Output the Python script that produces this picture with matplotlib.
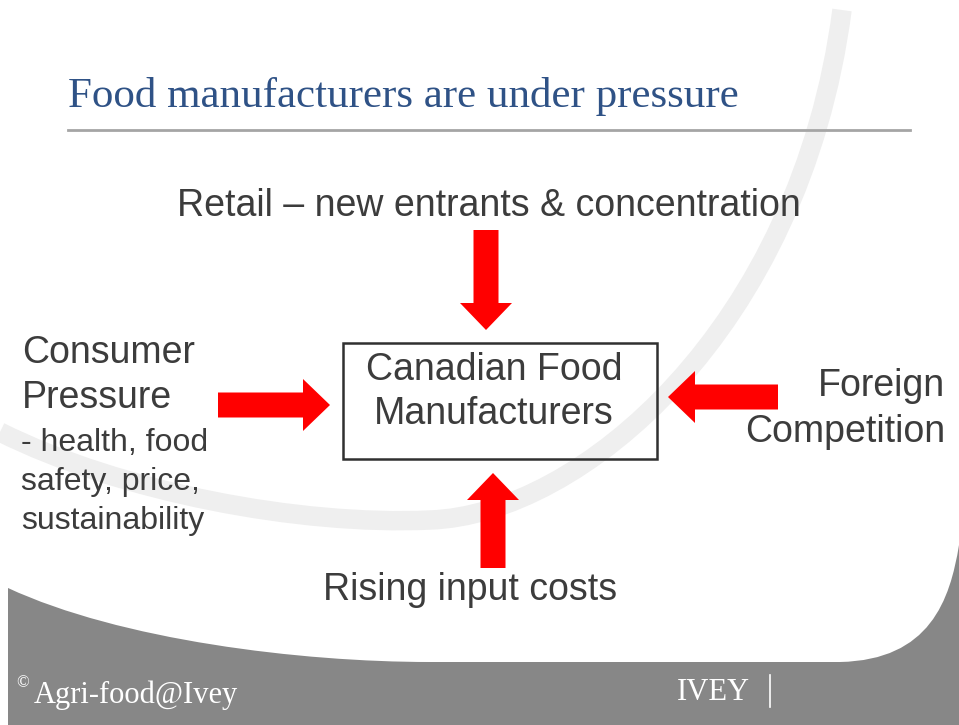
import matplotlib.pyplot as plt
from matplotlib.patches import FancyArrow, Rectangle, PathPatch
from matplotlib.path import Path

# slide text
title = "Food manufacturers are under pressure"
top_label = "Retail \u2013 new entrants & concentration"
box_lines = ["Canadian Food", "Manufacturers"]
left_head = ["Consumer", "Pressure"]
left_detail = ["- health, food", "safety, price,", "sustainability"]
right_lines = ["Foreign", "Competition"]
bottom_label = "Rising input costs"
footer_left = "Agri-food@Ivey"
footer_right = "IVEY"

W, H = 959, 725
TXT = "#3c3c3c"
RED = "#ff0000"
GREY = "#878787"

fig = plt.figure(figsize=(W / 100, H / 100), dpi=100)
ax = fig.add_axes([0, 0, 1, 1])
ax.set_xlim(0, W)
ax.set_ylim(H, 0)
ax.axis("off")

# light background swoosh
swoosh = Path([(0, 432), (120, 492), (300, 526), (430, 520),
               (580, 515), (800, 330), (842, 10)],
              [Path.MOVETO, Path.CURVE4, Path.CURVE4, Path.CURVE4,
               Path.CURVE4, Path.CURVE4, Path.CURVE4])
ax.add_patch(PathPatch(swoosh, fill=False, lw=14, ec="#efefef", zorder=0,
                       capstyle="butt"))

# grey footer shape
footer = Path([(8, 725), (8, 588), (120, 640), (300, 662), (430, 662),
               (840, 662), (930, 660), (950, 600), (959, 545),
               (959, 725), (8, 725)],
              [Path.MOVETO, Path.LINETO, Path.CURVE4, Path.CURVE4, Path.CURVE4,
               Path.LINETO, Path.CURVE4, Path.CURVE4, Path.CURVE4,
               Path.LINETO, Path.CLOSEPOLY])
ax.add_patch(PathPatch(footer, fc=GREY, ec="none", zorder=1))

serif = "Liberation Serif"
sans = "Liberation Sans"
fs = 27

# title + rule
ax.text(68, 96, title, fontsize=31, family=serif, color="#2f5286",
        va="center", ha="left")
ax.plot([68, 910], [130, 130], color="#a5a5a5", lw=2)

ax.text(489, 206, top_label, fontsize=fs, family=sans, color=TXT, ha="center", va="center")

# centre box
ax.add_patch(Rectangle((343, 343), 314, 116, fill=False, ec="#303030", lw=1.8, zorder=3))
for i, line in enumerate(box_lines):
    ax.text(494, 370 + i * 44, line, fontsize=fs, family=sans, color=TXT,
            ha="center", va="center")

# arrows (x, y, dx, dy)
arrows = [(486, 230, 0, 100), (218, 405, 112, 0), (778, 397, -110, 0), (493, 568, 0, -95)]
for x, y, dx, dy in arrows:
    ax.add_patch(FancyArrow(x, y, dx, dy, width=25, head_width=52, head_length=27,
                            length_includes_head=True, color=RED, lw=0, zorder=4))

for i, line in enumerate(left_head):
    ax.text(22, 353 + i * 45, line, fontsize=fs, family=sans, color=TXT, va="center")
for i, line in enumerate(left_detail):
    ax.text(21, 443 + i * 39, line, fontsize=23, family=sans, color=TXT, va="center")

for i, line in enumerate(right_lines):
    ax.text(945, 386 + i * 46, line, fontsize=fs, family=sans, color=TXT,
            ha="right", va="center")

ax.text(470, 590, bottom_label, fontsize=fs, family=sans, color=TXT, ha="center", va="center")

# footer
ax.text(16, 683, "\u00a9", fontsize=12, family=serif, color="white", va="center")
ax.text(34, 695, footer_left, fontsize=22, family=serif, color="white", va="center")
ax.text(713, 693, footer_right, fontsize=22, family=serif, color="white",
        va="center", ha="center")
ax.plot([770, 770], [675, 707], color="white", lw=1.2)

fig.savefig("out.png", dpi=100)
